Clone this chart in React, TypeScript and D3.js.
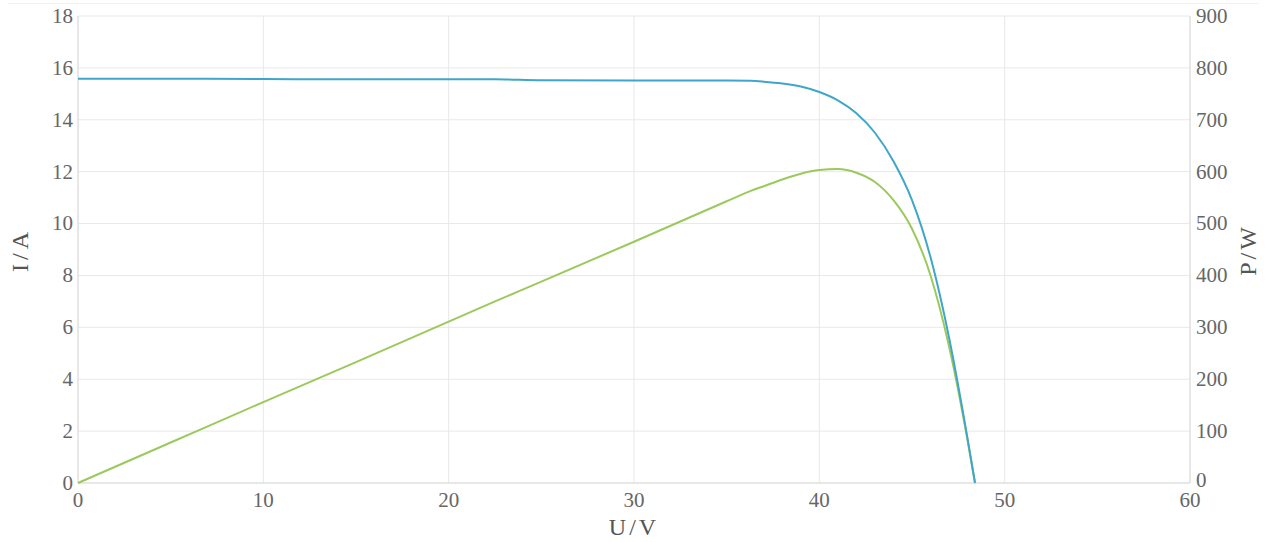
import React from "react";
import * as d3 from "d3";

const voltage = [0, 5, 10, 15, 20, 22.5, 25, 30, 35, 36.3, 37, 38, 39, 40, 41, 42, 43, 44, 45, 46, 47, 48, 48.4];
const current = [15.58, 15.58, 15.57, 15.56, 15.56, 15.56, 15.52, 15.51, 15.51, 15.5, 15.47, 15.4, 15.28, 15.07, 14.75, 14.25, 13.5, 12.4, 10.9, 8.7, 5.6, 1.7, 0];
const power = [0, 78, 156, 233, 311, 350, 388, 465, 543, 563, 572, 585, 596, 603, 605, 598, 580, 545, 490, 400, 263, 82, 0];
const xTicks = [0, 10, 20, 30, 40, 50, 60];
const iTicks = [0, 2, 4, 6, 8, 10, 12, 14, 16, 18];
const pTicks = [0, 100, 200, 300, 400, 500, 600, 700, 800, 900];

const W = 1265, H = 542;
const L = 78, R = 1190, T = 16, B = 483;
const font = "'Liberation Serif', 'DejaVu Serif', serif";

export default function App() {
  const x = d3.scaleLinear().domain([0, 60]).range([L, R]);
  const yI = d3.scaleLinear().domain([0, 18]).range([B, T]);
  const yP = d3.scaleLinear().domain([0, 900]).range([B, T]);
  const pts = voltage.map((v, i) => ({ v, i: current[i], p: power[i] }));
  const lineI = d3.line<any>().x(d => x(d.v)).y(d => yI(d.i)).curve(d3.curveMonotoneX)(pts) || "";
  const lineP = d3.line<any>().x(d => x(d.v)).y(d => yP(d.p)).curve(d3.curveMonotoneX)(pts) || "";
  const grid = "#e8e8e8";
  const txt = "#666";
  return (
    <svg width={W} height={H} style={{ position: "absolute", left: 0, top: 0, background: "#fff" }}>
      <line x1={8} x2={1258} y1={3.5} y2={3.5} stroke="#f0f0f0" />
      {xTicks.map(t => (
        <line key={"gx" + t} x1={x(t)} x2={x(t)} y1={T} y2={B} stroke={grid} strokeWidth={1} />
      ))}
      {iTicks.map(t => (
        <line key={"gy" + t} x1={L} x2={R} y1={yI(t)} y2={yI(t)} stroke={grid} strokeWidth={1} />
      ))}
      <line x1={L} x2={L} y1={T} y2={B} stroke="#dcdcdc" />
      <line x1={R} x2={R} y1={T} y2={B} stroke="#dcdcdc" />
      <line x1={L} x2={R} y1={B} y2={B} stroke="#dcdcdc" />
      {iTicks.map(t => (
        <text key={"ti" + t} x={L - 5} y={yI(t)} dy="0.1em" textAnchor="end" fontFamily={font} fontSize={21} fill={txt}
          dominantBaseline="middle">{t}</text>
      ))}
      {pTicks.map(t => (
        <text key={"tp" + t} x={R + 6} y={yP(t)} dy={t === 0 ? "-0.05em" : "0.1em"} textAnchor="start" fontFamily={font} fontSize={21} fill={txt}
          dominantBaseline="middle">{t}</text>
      ))}
      {xTicks.map(t => (
        <text key={"tx" + t} x={x(t)} y={B + 24} textAnchor="middle" fontFamily={font} fontSize={21} fill={txt}>{t}</text>
      ))}
      <text x={(L + R) / 2} y={H - 7} textAnchor="middle" fontFamily={font} fontSize={24} fill="#555" letterSpacing={3}>U/V</text>
      <text transform={`translate(28, 250) rotate(-90)`} textAnchor="middle" fontFamily={font} fontSize={24} fill="#555" letterSpacing={4}>I/A</text>
      <text transform={`translate(1256, 250) rotate(-90)`} textAnchor="middle" fontFamily={font} fontSize={24} fill="#555" letterSpacing={3}>P/W</text>
      <path d={lineP} fill="none" stroke="#9cc95c" strokeWidth={2} />
      <path d={lineI} fill="none" stroke="#3fa6ca" strokeWidth={2} />
    </svg>
  );
}
